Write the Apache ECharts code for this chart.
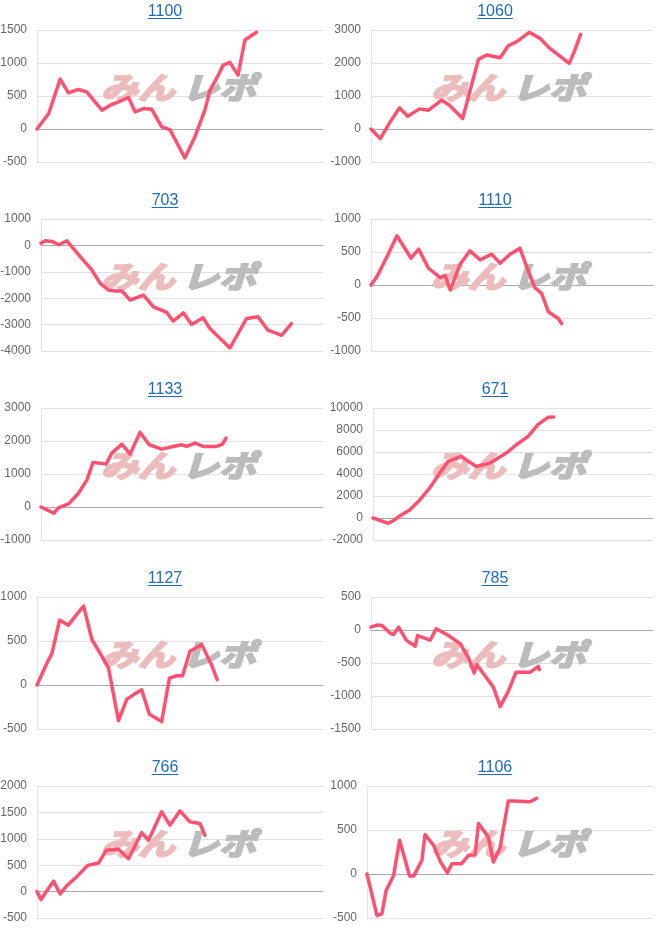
<!DOCTYPE html>
<html><head><meta charset="utf-8">
<script src="https://cdn.jsdelivr.net/npm/echarts@6/dist/echarts.min.js"></script>
<style>html,body{margin:0;padding:0;background:#fff}#c{width:660px;height:945px}</style>
</head><body><div id="c"></div>
<script>
const titles = ['1100','1060','703','1110','1133','671','1127','785','766','1106'];
const yMin  = [-500,-1000,-4000,-1000,-1000,-2000,-500,-1500,-500,-500];
const yMax  = [1500,3000,1000,1000,3000,10000,1000,500,2000,1000];
const yStep = [500,1000,1000,500,1000,2000,500,500,500,500];

const x1100 = [0,4.1,8.1,11.0,14.5,17.4,19.8,22.7,25.6,28.5,32.0,34.3,37.2,40.1,43.6,46.5,51.7,55.2,58.7,60.5,62.8,65.1,67.4,70.3,72.7,76.7];
const y1100 = [0,235,756,548,599,563,437,285,361,411,477,260,310,300,32,-9,-439,-120,285,589,766,968,1009,816,1348,1465];
const x1060 = [0,3.3,6.8,10.1,13.0,17.2,20.4,25.1,27.8,32.5,38.1,41.0,45.8,48.7,51.7,56.1,59.9,63.4,67.0,70.3,72.3,74.3];
const y1060 = [0,-291,215,641,387,610,570,873,722,316,2109,2241,2160,2524,2646,2929,2747,2443,2210,1987,2392,2868];
const x703 = [0,1.5,3.9,6.3,9.2,13.9,18.0,21.0,23.9,26.3,28.7,31.6,36.3,39.9,44.6,46.9,50.5,53.4,57.5,59.9,67.0,72.9,77.0,80.5,85.3,88.8];
const y703 = [86,175,150,23,175,-421,-929,-1437,-1690,-1728,-1728,-2071,-1881,-2325,-2541,-2871,-2553,-2997,-2744,-3150,-3886,-2769,-2706,-3213,-3404,-2959];
const x1110 = [0,2.1,5.7,9.2,11.6,14.2,16.9,20.4,24.5,26.3,28.1,31.6,35.1,38.7,42.8,45.8,49.3,52.8,55.2,58.1,60.5,62.9,66.4,67.6];
const y1110 = [0,127,431,746,584,406,543,254,112,142,-76,315,518,381,467,330,467,558,279,-41,-127,-406,-508,-584];
const x1133 = [0,2.1,4.5,6.3,9.8,13.3,16.3,18.4,21.0,23.1,25.1,28.7,31.6,35.1,38.4,42.8,46.9,49.9,51.7,54.6,57.5,62.3,64.4,65.6];
const y1133 = [0,-89,-190,-18,94,418,823,1349,1329,1299,1633,1906,1603,2261,1886,1754,1835,1886,1835,1937,1835,1835,1906,2089];
const x671 = [0,3.0,5.4,7.7,10.1,13.1,16.7,20.2,23.8,26.8,31.5,36.9,41.7,47.6,51.2,55.4,58.9,62.5,64.5];
const y671 = [0,-268,-481,-177,279,734,1646,2709,4076,5139,5595,4684,4988,5899,6658,7418,8481,9149,9180];
const x1127 = [0,3.5,5.2,7.9,11.0,13.4,16.3,19.2,22.7,25.0,28.5,31.4,33.7,36.6,39.3,43.6,46.3,48.8,50.9,53.5,57.6,61.0,63.0];
const y1127 = [0,250,357,737,680,783,897,517,326,193,-405,-161,-112,-55,-333,-416,79,105,105,383,459,231,60];
const x785 = [0,2.1,3.9,6.6,8.0,9.8,12.5,15.7,16.5,21.0,23.1,26.9,31.6,34.6,36.6,37.5,41.0,43.4,45.8,48.7,51.4,56.4,59.3,59.7];
const y785 = [43,74,69,-43,-69,43,-154,-246,-84,-155,18,-69,-206,-424,-652,-525,-728,-865,-1160,-931,-642,-642,-551,-601];
const x766 = [0,1.4,3.5,5.8,8.1,10.5,13.4,17.7,21.5,24.2,28.5,32.0,36.6,39.0,43.6,46.5,50.0,53.5,57.0,58.7];
const y766 = [0,-151,20,198,-43,116,255,496,541,782,801,623,1118,972,1511,1258,1530,1321,1289,1067];
const x1106 = [0,3.5,5.2,6.7,9.3,11.4,14.9,16.3,19.2,20.3,23.3,25.6,28.1,29.7,33.1,35.5,37.8,39.0,42.4,44.2,46.5,49.4,51.0,57.0,59.3];
const y1106 = [0,-473,-454,-188,-17,383,-24,-24,155,448,326,143,14,117,117,212,220,574,421,136,296,829,829,821,859];

const xs = [x1100,x1060,x703,x1110,x1133,x671,x1127,x785,x766,x1106];
const ys = [y1100,y1060,y703,y1110,y1133,y671,y1127,y785,y766,y1106];
const watermark = ['みん','レポ'];

const FONT = '"Liberation Sans", Arial, sans-serif';
const WFONT = 'italic bold 37px "Noto Sans CJK JP", sans-serif';
const gridLeft = [37,371,41,371,41,373,37,371,37,367];

const mc = document.createElement('canvas').getContext('2d');
mc.font = '16px ' + FONT;

const grids=[], xAxes=[], yAxes=[], series=[], graphics=[];
for (let i = 0; i < titles.length; i++) {
  const col = i % 2, row = Math.floor(i / 2);
  const ox = col * 330, oy = row * 189;
  const rightEdge = ox + 323;
  grids.push({left: gridLeft[i], top: oy + 30, width: rightEdge - gridLeft[i], height: 132, outerBoundsMode: 'none', containLabel: false});
  xAxes.push({gridIndex: i, type: 'value', min: 0, max: 100,
    axisLine: {show: true, onZero: true, lineStyle: {color: '#a8a8a8', width: 1}},
    axisTick: {show: false}, axisLabel: {show: false}, splitLine: {show: false}});
  yAxes.push({gridIndex: i, type: 'value', min: yMin[i], max: yMax[i], interval: yStep[i],
    axisLine: {show: true, lineStyle: {color: '#e4e4e4'}},
    axisTick: {show: false},
    axisLabel: {color: '#666', fontSize: 12, fontFamily: FONT, margin: 10, formatter: v => String(v)},
    splitLine: {show: true, lineStyle: {color: '#e0e0e0', width: 1}}});
  series.push({type: 'line', xAxisIndex: i, yAxisIndex: i, showSymbol: false, symbol: 'none',
    silent: true, animation: false, z: 3,
    lineStyle: {color: '#ff5070', width: 3.5, join: 'round', cap: 'round'},
    data: xs[i].map((x, k) => [x, ys[i][k]])});
  const cx = ox + 165;
  const tw = mc.measureText(titles[i]).width;
  graphics.push({type: 'text', x: cx, y: oy + 12, z: 10,
    style: {text: titles[i], fill: '#1a6bc8', font: '16px ' + FONT, align: 'center', verticalAlign: 'middle'}});
  graphics.push({type: 'rect', shape: {x: cx - tw / 2, y: oy + 18, width: tw, height: 1}, z: 10,
    style: {fill: '#1a6bc8'}});
  graphics.push({type: 'text', x: ox + 101, y: oy + 87, z: 1, scaleY: 0.82,
    style: {text: watermark[0], x: 0, y: 0, fill: '#ecbcbc', stroke: '#ecbcbc', lineWidth: 2.5, font: WFONT, align: 'left', verticalAlign: 'middle'}});
  graphics.push({type: 'text', x: ox + 182, y: oy + 87, z: 1, scaleY: 0.82,
    style: {text: watermark[1], x: 0, y: 0, fill: '#bcbcbc', stroke: '#bcbcbc', lineWidth: 2.5, font: WFONT, align: 'left', verticalAlign: 'middle'}});
}

const chart = echarts.init(document.getElementById('c'), null, {renderer: 'canvas'});
chart.setOption({
  animation: false,
  backgroundColor: '#fff',
  grid: grids, xAxis: xAxes, yAxis: yAxes, series: series,
  graphic: {elements: graphics}
});
</script></body></html>
